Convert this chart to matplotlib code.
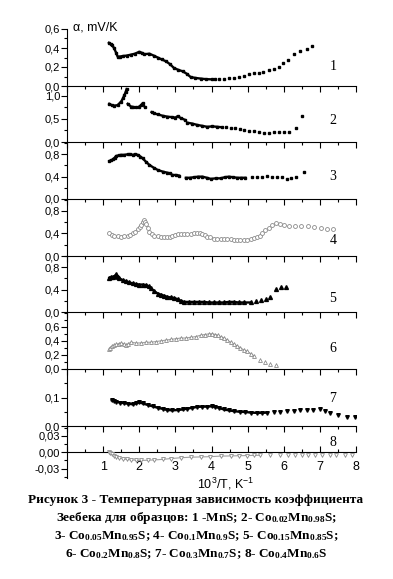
import numpy as np
import matplotlib
matplotlib.use("Agg")
import matplotlib.pyplot as plt
from matplotlib.ticker import MultipleLocator, FuncFormatter

plt.rcParams["font.family"] = ["Liberation Sans", "DejaVu Sans"]
plt.rcParams["mathtext.default"] = "regular"

nan = np.nan

# panel 1: MnS  (dense part + sparse points)
p1_x = [1.16, 1.21, 1.25, 1.30, 1.36, 1.40, 1.47, 1.54, 1.65, 1.77, 1.88, 2.00, 2.07, 2.14, 2.28,
        2.40, 2.51, 2.62, 2.74, 2.85, 2.96, 3.08, 3.20, 3.31, 3.42, 3.55, 3.70, 3.85, 4.00, 4.10]
p1_y = [0.455, 0.44, 0.43, 0.40, 0.35, 0.31, 0.31, 0.315, 0.32, 0.33, 0.34, 0.36, 0.35, 0.335, 0.34,
        0.32, 0.30, 0.28, 0.26, 0.23, 0.19, 0.17, 0.155, 0.13, 0.095, 0.085, 0.078, 0.072, 0.07, 0.07]
p1_xs = [4.20, 4.34, 4.48, 4.62, 4.75, 4.89, 5.03, 5.17, 5.31, 5.43, 5.60, 5.74, 5.86, 5.99, 6.11,
         6.27, 6.44, 6.64, 6.78]
p1_ys = [0.071, 0.078, 0.085, 0.089, 0.095, 0.110, 0.127, 0.138, 0.141, 0.148, 0.166, 0.184, 0.205,
         0.237, 0.272, 0.332, 0.370, 0.388, 0.420]

# panel 2: Co0.02Mn0.98S
p2_x = [1.17, 1.24, 1.31, 1.40, 1.50, 1.55, 1.59, 1.62, 1.65, nan,
        1.68, 1.77, 1.84, 1.91, 1.98, 2.05, 2.09, 2.16, nan,
        2.34, 2.42, 2.51, 2.65, 2.78, 2.92, 3.00, 3.06, 3.15, 3.27, nan,
        3.33, 3.47, 3.61, 3.75, 3.88, 4.02, 4.16, 4.30]
p2_y = [0.83, 0.80, 0.79, 0.80, 0.88, 0.95, 1.02, 1.08, 1.15, nan,
        0.83, 0.77, 0.76, 0.75, 0.76, 0.80, 0.84, 0.75, nan,
        0.65, 0.62, 0.60, 0.57, 0.55, 0.54, 0.53, 0.56, 0.52, 0.48, nan,
        0.42, 0.40, 0.37, 0.35, 0.33, 0.34, 0.33, 0.32]
p2_xs = [4.39, 4.53, 4.66, 4.80, 4.89, 5.03, 5.17, 5.31, 5.44, 5.58, 5.72, 5.86, 6.01, 6.15, 6.34, 6.50]
p2_ys = [0.33, 0.31, 0.30, 0.28, 0.25, 0.24, 0.24, 0.21, 0.19, 0.20, 0.21, 0.22, 0.22, 0.22, 0.31, 0.57]

# panel 3: Co0.05Mn0.95S
p3_x = [1.17, 1.22, 1.27, 1.32, 1.36, 1.43, 1.50, 1.59, 1.68, 1.75, 1.82, 1.89, 1.96, 2.03, 2.09,
        2.18, 2.28, 2.40, 2.51, 2.65, 2.78, 2.85, 2.92, 3.01, 3.10, nan,
        3.29, 3.40, 3.52, 3.63, 3.75, 3.87, 3.98, 4.12, 4.25, 4.37, 4.48, 4.60, 4.71, 4.83, 4.94]
p3_y = [0.68, 0.69, 0.71, 0.74, 0.77, 0.78, 0.79, 0.79, 0.80, 0.80, 0.79, 0.80, 0.79, 0.76, 0.73,
        0.67, 0.61, 0.56, 0.52, 0.49, 0.47, 0.46, 0.43, 0.43, 0.42, nan,
        0.38, 0.38, 0.39, 0.40, 0.40, 0.38, 0.36, 0.37, 0.37, 0.39, 0.40, 0.39, 0.38, 0.38, 0.38]
p3_xs = [5.12, 5.26, 5.40, 5.54, 5.67, 5.81, 5.95, 6.09, 6.21, 6.34, 6.55]
p3_ys = [0.39, 0.40, 0.39, 0.41, 0.40, 0.40, 0.39, 0.35, 0.37, 0.40, 0.49]

# panel 4: Co0.1Mn0.9S
p4_x = [1.17, 1.24, 1.31, 1.40, 1.50, 1.59, 1.68, 1.75, 1.82, 1.89, 1.96, 2.01, 2.05, 2.09, 2.12,
        2.16, 2.19, 2.24, 2.28, 2.35, 2.42, 2.51, 2.60, 2.69, 2.78, 2.85, 2.92, 2.99, 3.06, 3.15,
        3.24, 3.33, 3.42, 3.52, 3.61, 3.68, 3.75, 3.82, 3.88, 3.97, 4.07, 4.16, 4.25, 4.34, 4.44,
        4.53, 4.62, 4.71, 4.80, 4.90, 4.99, 5.08, 5.17]
p4_y = [0.40, 0.38, 0.36, 0.35, 0.34, 0.35, 0.36, 0.38, 0.40, 0.43, 0.47, 0.51, 0.55, 0.60, 0.64,
        0.61, 0.57, 0.50, 0.43, 0.39, 0.36, 0.35, 0.34, 0.34, 0.33, 0.34, 0.36, 0.38, 0.39, 0.39,
        0.39, 0.39, 0.39, 0.40, 0.40, 0.40, 0.39, 0.37, 0.34, 0.33, 0.31, 0.31, 0.31, 0.30, 0.30,
        0.30, 0.28, 0.28, 0.28, 0.28, 0.29, 0.30, 0.32]
p4_xs = [5.26, 5.33, 5.40, 5.49, 5.58, 5.67, 5.78, 5.89, 6.01, 6.15, 6.32, 6.48, 6.66, 6.85, 7.03,
         7.19, 7.37]
p4_ys = [0.33, 0.36, 0.40, 0.46, 0.49, 0.55, 0.58, 0.57, 0.55, 0.54, 0.54, 0.54, 0.53, 0.52, 0.49,
         0.48, 0.47]

# panel 5: Co0.15Mn0.85S
p5_x = [1.17, 1.22, 1.27, 1.32, 1.36, 1.41, 1.45, 1.54, 1.63, 1.72, 1.82, 1.91, 2.00, 2.10, 2.19,
        2.26, 2.32, 2.42, 2.51, 2.60, 2.69, 2.78, 2.87, 2.97, 3.06, 3.15, 3.24, 3.38, 3.52, 3.66,
        3.79, 3.93, 4.07, 4.20, 4.34, 4.48, 4.62, 4.75, 4.89, 5.08]
p5_y = [0.61, 0.62, 0.63, 0.64, 0.67, 0.63, 0.60, 0.57, 0.55, 0.53, 0.51, 0.50, 0.49, 0.49, 0.48,
        0.46, 0.42, 0.37, 0.33, 0.31, 0.29, 0.27, 0.26, 0.25, 0.23, 0.20, 0.18, 0.18, 0.18, 0.18,
        0.18, 0.17, 0.17, 0.17, 0.17, 0.18, 0.18, 0.17, 0.17, 0.17]
p5_xs = [5.22, 5.37, 5.52, 5.63, 5.78, 5.92, 6.06]
p5_ys = [0.20, 0.22, 0.24, 0.26, 0.41, 0.44, 0.44]

# panel 6: Co0.2Mn0.8S
p6_x = [1.16, 1.20, 1.25, 1.30, 1.36, 1.43, 1.50, 1.57, 1.63, 1.70, 1.77, 1.91, 2.05, 2.19, 2.32,
        2.46, 2.60, 2.74, 2.87, 3.01, 3.15, 3.29, 3.42, 3.56, 3.70, 3.82, 3.93, 4.02, 4.11, 4.18,
        4.25, 4.35, 4.44, 4.53, 4.62, 4.71, 4.80, 4.90, 4.99, 5.08, 5.17]
p6_y = [0.28, 0.30, 0.33, 0.34, 0.35, 0.36, 0.37, 0.36, 0.34, 0.36, 0.38, 0.37, 0.37, 0.38, 0.38,
        0.39, 0.40, 0.41, 0.42, 0.43, 0.44, 0.44, 0.45, 0.46, 0.48, 0.49, 0.50, 0.50, 0.49, 0.48,
        0.46, 0.44, 0.41, 0.38, 0.35, 0.33, 0.30, 0.27, 0.25, 0.22, 0.19]
p6_xs = [5.35, 5.49, 5.61, 5.79]
p6_ys = [0.13, 0.096, 0.07, 0.057]

# panel 7: Co0.3Mn0.7S
p7_x = [1.24, 1.30, 1.36, 1.47, 1.59, 1.70, 1.82, 1.91, 2.00, 2.10, 2.23, 2.37, 2.51, 2.65, 2.78,
        2.92, 3.06, 3.20, 3.33, 3.47, 3.61, 3.75, 3.88, 4.00, 4.11, 4.22, 4.34, 4.48, 4.62, 4.78,
        4.94, 5.10, 5.26, 5.40, 5.53]
p7_y = [0.090, 0.088, 0.085, 0.082, 0.080, 0.078, 0.076, 0.079, 0.083, 0.079, 0.074, 0.069, 0.064,
        0.060, 0.056, 0.055, 0.056, 0.058, 0.061, 0.064, 0.067, 0.068, 0.068, 0.069, 0.067, 0.063,
        0.058, 0.055, 0.052, 0.050, 0.049, 0.047, 0.046, 0.046, 0.047]
p7_xs = [5.72, 5.90, 6.09, 6.27, 6.45, 6.63, 6.82, 6.99, 7.14, 7.28, 7.49, 7.74, 7.96]
p7_ys = [0.049, 0.050, 0.052, 0.052, 0.055, 0.056, 0.056, 0.058, 0.052, 0.045, 0.040, 0.032, 0.031]

# panel 8: Co0.4Mn0.6S
p8_x = [1.15, 1.20, 1.24, 1.30, 1.36, 1.45, 1.54, 1.65, 1.77, 1.91, 2.05, 2.23, 2.42, 2.65, 2.87,
        3.15, 3.42, 3.70, 3.97, 4.25, 4.53, 4.76, 4.99, 5.17, 5.35]
p8_y = [0.001, -0.002, -0.004, -0.007, -0.009, -0.011, -0.012, -0.013, -0.014, -0.0145, -0.015,
        -0.0145, -0.014, -0.013, -0.0115, -0.010, -0.009, -0.0085, -0.008, -0.007, -0.0067,
        -0.0063, -0.006, -0.0057, -0.0055]
p8_xs = [5.63, 5.90, 6.13, 6.32, 6.50, 6.68, 6.86, 7.06, 7.28, 7.46, 7.69, 7.89]
p8_ys = [-0.0055, -0.005, -0.005, -0.005, -0.005, -0.005, -0.005, -0.005, -0.005, -0.005,
         -0.005, -0.0045]

panel_names = ["1", "2", "3", "4", "5", "6", "7", "8"]
y_ticks = [[0.0, 0.2, 0.4, 0.6], [0.0, 0.5, 1.0], [0.0, 0.4, 0.8], [0.0, 0.4, 0.8],
           [0.0, 0.4, 0.8], [0.0, 0.2, 0.4, 0.6], [0.0, 0.1], [-0.03, 0.0, 0.03]]
x_tick_labels = ["1", "2", "3", "4", "5", "6", "7", "8"]

data = [(p1_x, p1_y, p1_xs, p1_ys), (p2_x, p2_y, p2_xs, p2_ys), (p3_x, p3_y, p3_xs, p3_ys),
        (p4_x, p4_y, p4_xs, p4_ys), (p5_x, p5_y, p5_xs, p5_ys), (p6_x, p6_y, p6_xs, p6_ys),
        (p7_x, p7_y, p7_xs, p7_ys), (p8_x, p8_y, p8_xs, p8_ys)]

# layout in pixels (top, bottom) and styles
W, H = 393, 579
L, R = 67, 356
bounds = [(29, 86), (86, 142), (142, 199), (199, 256), (256, 312), (312, 369), (369, 426), (426, 478)]
ylims = [(0, 0.6), (0, 1.217), (0, 1.02), (0, 1.01), (0, 1.0), (0, 0.81), (0, 0.2), (-0.047, 0.048)]
minors = [0.1, 0.25, 0.2, 0.2, 0.2, 0.1, 0.05, 0.015]
label_py = [66, 121, 176, 241, 298, 349, 398, 443]
styles = [("s", True, 1.5), ("s", True, 1.5), ("s", True, 1.5), ("o", False, 2.8),
          ("^", True, 2.8), ("^", False, 2.8), ("v", True, 2.6), ("v", False, 2.8)]
gray = "#8a8a8a"

fig = plt.figure(figsize=(W / 100, H / 100), dpi=100)

for i, (x, y, xs, ys) in enumerate(data):
    top, bot = bounds[i]
    ax = fig.add_axes([L / W, 1 - bot / H, (R - L) / W, (bot - top) / H])
    ax.patch.set_alpha(0)
    m, filled, ms = styles[i]
    if filled:
        ax.plot(x, y, "-", color="black", lw=1.7, zorder=2)
        ax.plot(x, y, ls="none", marker=m, ms=ms, color="black", zorder=3)
        ax.plot(xs, ys, ls="none", marker=m, ms=ms, color="black", zorder=3)
    else:
        ax.plot(x, y, "-", color="#a0a0a0", lw=0.8, zorder=2)
        ax.plot(x, y, ls="none", marker=m, ms=ms, mfc="white", mec=gray, mew=0.6, zorder=3)
        ax.plot(xs, ys, ls="none", marker=m, ms=ms, mfc="white", mec=gray, mew=0.6, zorder=3)

    ax.set_xlim(0, 8)
    ax.set_ylim(*ylims[i])
    ax.spines["top"].set_visible(False)
    ax.spines["right"].set_visible(False)
    for s in ("left", "bottom"):
        ax.spines[s].set_linewidth(0.8)

    ax.set_yticks(y_ticks[i])
    ax.yaxis.set_minor_locator(MultipleLocator(minors[i]))
    if i == 7:
        ax.yaxis.set_major_formatter(FuncFormatter(lambda v, p: f"{v:.2f}".replace(".", ",")))
    else:
        ax.yaxis.set_major_formatter(FuncFormatter(lambda v, p: f"{v:.1f}".replace(".", ",")))
    ax.tick_params(axis="y", which="major", direction="out", length=4, width=0.8, pad=1, labelsize=8)
    ax.tick_params(axis="y", which="minor", direction="out", length=2, width=0.8)

    ax.set_xticks(range(0, 9))
    ax.xaxis.set_minor_locator(MultipleLocator(0.5))
    if i == 7:
        ax.spines["bottom"].set_position(("data", 0))
        ax.set_xticklabels([""] + x_tick_labels)
        ax.tick_params(axis="x", which="major", direction="in", length=4, width=0.8, pad=6, labelsize=9)
        ax.tick_params(axis="x", which="minor", direction="in", length=2, width=0.8)
    else:
        ax.tick_params(axis="x", which="major", direction="out", length=4, width=0.8, labelbottom=False)
        ax.tick_params(axis="x", which="minor", direction="out", length=2, width=0.8)

    ax.text(333 / W, 1 - label_py[i] / H, panel_names[i], transform=fig.transFigure,
            ha="center", va="center", fontsize=10, family="Liberation Serif")

fig.text(73 / W, 1 - 28 / H, "α, mV/K", ha="left", va="center", fontsize=9)
fig.text(226 / W, 1 - 484 / H, "10$^3$/T, K$^{-1}$", ha="center", va="center", fontsize=9)

caption = ["Рисунок 3 - Температурная зависимость коэффициента",
           "Зеебека для образцов: 1 -MnS; 2- Co$_{0.02}$Mn$_{0.98}$S;",
           "3- Co$_{0.05}$Mn$_{0.95}$S; 4- Co$_{0.1}$Mn$_{0.9}$S; 5- Co$_{0.15}$Mn$_{0.85}$S;",
           "6- Co$_{0.2}$Mn$_{0.8}$S; 7- Co$_{0.3}$Mn$_{0.7}$S; 8- Co$_{0.4}$Mn$_{0.6}$S"]
for k, line in enumerate(caption):
    fig.text(196 / W, 1 - (500 + 18 * k) / H, line, ha="center", va="center",
             fontsize=9.5, fontweight="bold", family="Liberation Serif")

fig.savefig("out.png", dpi=100)
